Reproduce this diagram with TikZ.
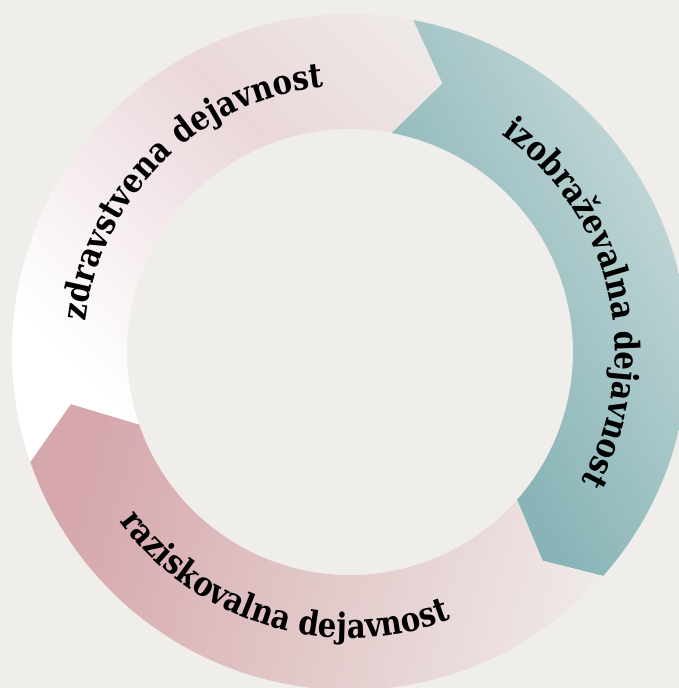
\documentclass[tikz,border=0pt]{standalone}
\usepackage{fontspec}
\newfontfamily\ringserif{DejaVu Serif}[FakeStretch=0.86]
\usetikzlibrary{decorations.text}

\definecolor{ringbg}{RGB}{240,238,235}
\definecolor{zdravpink}{RGB}{234,215,218}
\definecolor{zdravgray}{RGB}{238,232,230}
\definecolor{tealdark}{RGB}{136,180,183}
\definecolor{teallight}{RGB}{213,226,225}
\definecolor{razdark}{RGB}{213,166,171}
\definecolor{razlight}{RGB}{240,236,233}

\pgfdeclareverticalshading{zdravshade}{100bp}{color(0bp)=(white); color(30bp)=(white); color(62bp)=(zdravpink); color(80bp)=(zdravgray); color(100bp)=(zdravgray)}
\pgfdeclareverticalshading{tealshade}{100bp}{color(0bp)=(tealdark); color(35bp)=(tealdark); color(80bp)=(teallight); color(100bp)=(teallight)}
\pgfdeclareverticalshading{razshade}{100bp}{color(0bp)=(razdark); color(25bp)=(razdark); color(78bp)=(razlight); color(100bp)=(razlight)}

\newcommand{\labelfont}{\ringserif\bfseries\fontsize{34}{36}\selectfont}

\tikzset{
  ringlabel/.style={decorate, decoration={text along path, text align=center, text={|\labelfont|#1}}}
}

\begin{document}
\begin{tikzpicture}[x=1pt, y=1pt]
  % background
  \fill[ringbg] (-350,-336) rectangle (329,352);
  \useasboundingbox (-350,-336) rectangle (329,352);

  % three arrow segments of the ring
  \foreach \tailang/\headang/\tipang/\notchang/\segshade/\segangle in
    {199/79.2/71/190.6/zdravshade/-45, 79.2/-41.5/-47.3/71/tealshade/-60, -41.5/-161/-169.4/-47.3/razshade/-105}
    \shade[shading=\segshade, shading angle=\segangle] (\tailang:338)
      arc[start angle=\tailang, end angle=\headang, radius=338] -- (\tipang:284)
      -- (\headang:223) arc[start angle=\headang, end angle=\tailang, radius=223]
      -- (\notchang:284) -- cycle;

  % labels along the ring
  \path[ringlabel=zdravstvena dejavnost] (194.5:266) arc[start angle=194.5, end angle=74.5, radius=266];
  \path[ringlabel=izobraževalna dejavnost] (73:265) arc[start angle=73, end angle=-47, radius=265];
  \path[ringlabel=raziskovalna dejavnost] (193.5:286) arc[start angle=193.5, end angle=313.5, radius=286];
\end{tikzpicture}
\end{document}
